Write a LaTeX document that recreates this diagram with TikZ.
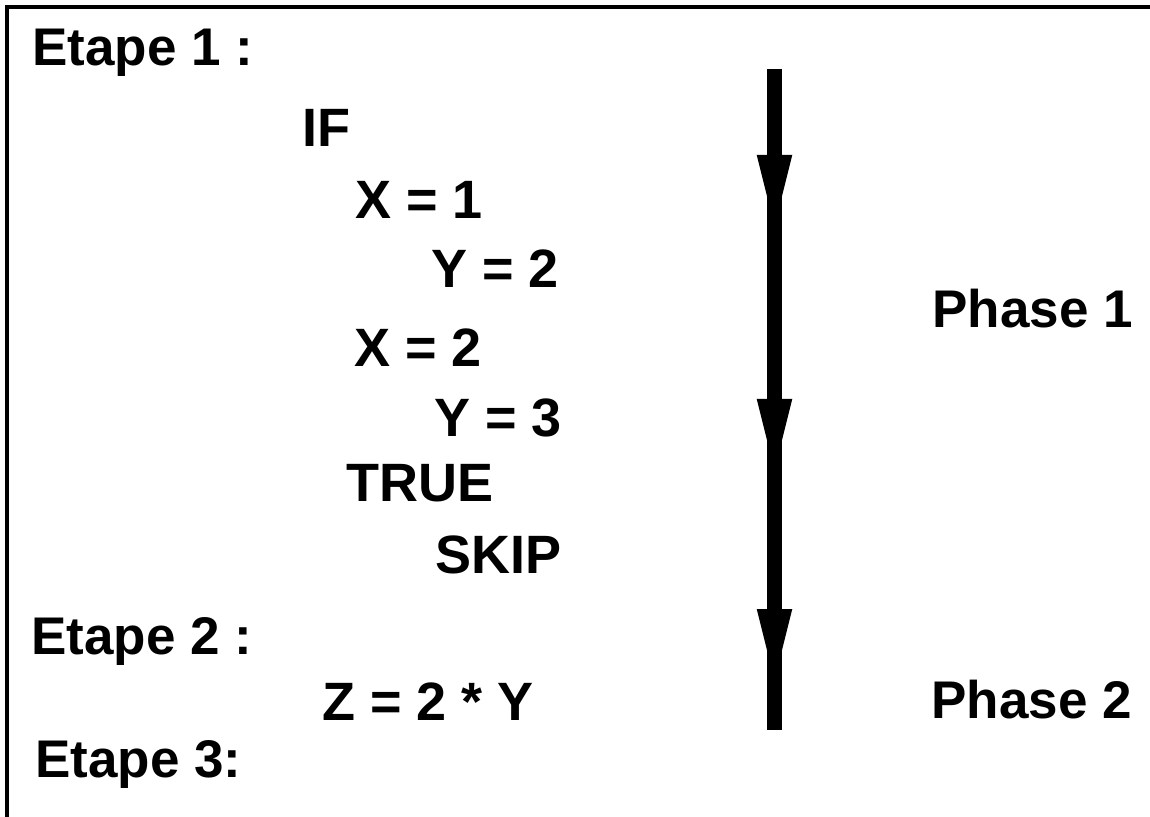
\documentclass[tikz,border=0pt]{standalone}
\usepackage{fontspec}
\setmainfont{Liberation Sans}
\usetikzlibrary{arrows.meta}

\begin{document}
\begin{tikzpicture}[x=0.5pt, y=-0.5pt,
        stage/.style={anchor=base west, inner sep=0pt, font=\bfseries\fontsize{26.5pt}{30pt}\selectfont},
        stmt/.style={anchor=base west, inner sep=0pt, font=\bfseries\fontsize{27pt}{31pt}\selectfont},
        frame/.style={line width=2pt, line join=miter},
        bar/.style={line width=7.8pt},
        flow/.style={bar, -{Triangle[width=17.8pt, length=35.5pt, line width=0pt]}}
    ]
        \useasboundingbox (0,0) rectangle (1150,817);
        \draw[frame] (1150,7) -- (7,7) -- (7,817);

        \node[stage] (etape1) at (32,66) {Etape 1 :};
        \node[stmt] (if) at (302,147) {IF};
        \node[stmt] (x1) at (355,219) {X = 1};
        \node[stmt] (y2) at (431,288) {Y = 2};
        \node[stmt] (x2) at (354,367) {X = 2};
        \node[stmt] (y3) at (434,437) {Y = 3};
        \node[stmt] (true) at (346,502) {TRUE};
        \node[stmt] (skip) at (435,573) {SKIP};
        \node[stage] (etape2) at (31,654) {Etape 2 :};
        \node[stmt] (z) at (322,720) {Z = 2 * Y};
        \node[stage] (etape3) at (35,777) {Etape 3:};

        \node[stage] (phase1) at (932,328) {Phase 1};
        \node[stage] (phase2) at (931,718) {Phase 2};

        \coordinate (bartop) at (774.5,69);
        \coordinate (tipa) at (774.5,226);
        \coordinate (tipb) at (774.5,470);
        \coordinate (tipc) at (774.5,680);
        \coordinate (barbot) at (774.5,730);

        \draw[bar] (bartop) -- (barbot);
        \draw[flow] (bartop) -- (tipa);
        \draw[flow] (tipa) -- (tipb);
        \draw[flow] (tipb) -- (tipc);
    \end{tikzpicture}
\end{document}
